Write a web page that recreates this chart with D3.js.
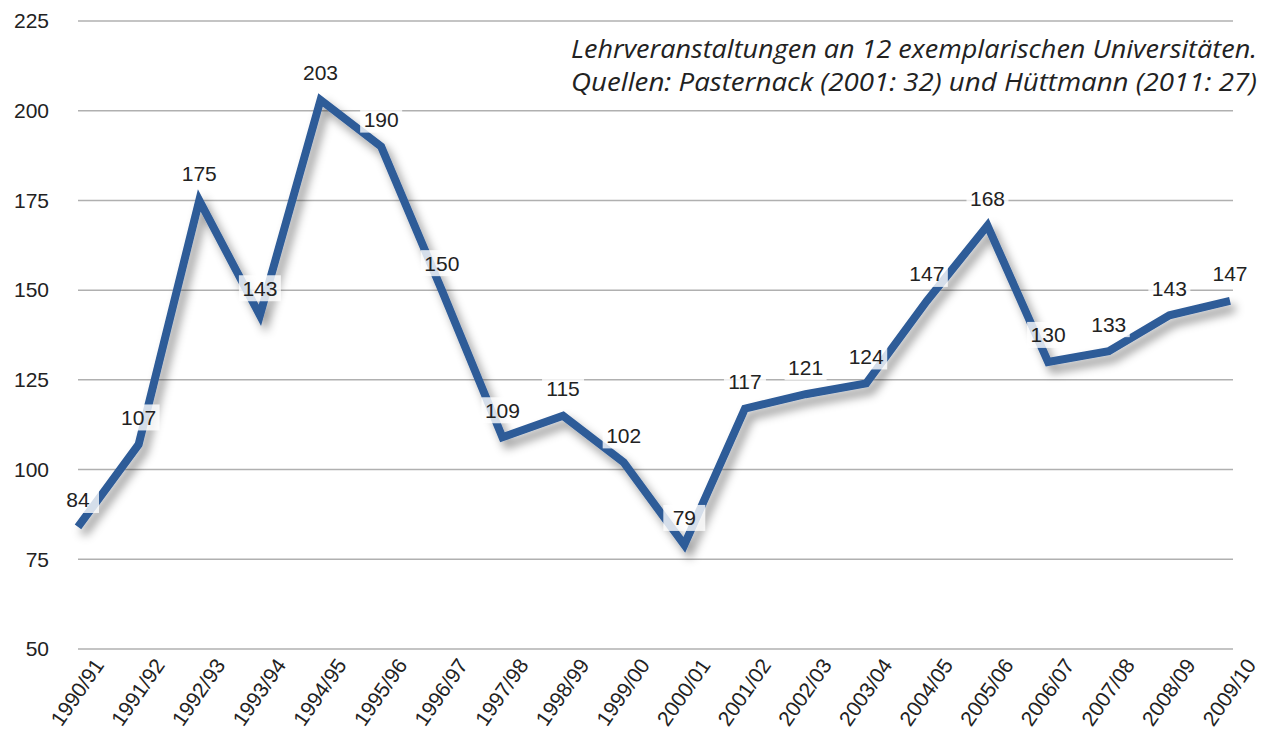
<!DOCTYPE html>
<html>
<head>
<meta charset="utf-8">
<script src="https://cdn.jsdelivr.net/npm/d3@7"></script>
<style>
  html, body { margin: 0; padding: 0; background: #fff; }
  #chart { width: 1266px; height: 738px; }
  text { font-family: "Liberation Sans", Arial, sans-serif; fill: #222; }
</style>
</head>
<body>
<div id="chart"></div>
<script>
// Lehrveranstaltungen per semester year, single line with value labels.
var years = ['1990/91', '1991/92', '1992/93', '1993/94', '1994/95', '1995/96',
    '1996/97', '1997/98', '1998/99', '1999/00', '2000/01', '2001/02', '2002/03',
    '2003/04', '2004/05', '2005/06', '2006/07', '2007/08', '2008/09', '2009/10'];
var counts = [84, 107, 175, 143, 203, 190, 150, 109, 115, 102, 79, 117, 121,
    124, 147, 168, 130, 133, 143, 147];
var yTicks = [50, 75, 100, 125, 150, 175, 200, 225];
var noteLines = ['Lehrveranstaltungen an 12 exemplarischen Universitäten.',
    'Quellen: Pasternack (2001: 32) und Hüttmann (2011: 27)'];

(function () {
    var W = 1266, H = 738;
    var svg = d3.select('#chart').append('svg')
        .attr('width', W).attr('height', H);

    var x = d3.scalePoint().domain(years).range([78, 1230]);
    var y = d3.scaleLinear().domain([50, 225]).range([649, 21]);

    // soft drop shadow under the line
    var f = svg.append('defs').append('filter').attr('id', 'shadow')
        .attr('x', '-10%').attr('y', '-10%').attr('width', '120%').attr('height', '130%');
    f.append('feDropShadow')
        .attr('dx', 5).attr('dy', 7).attr('stdDeviation', 5)
        .attr('flood-color', '#000').attr('flood-opacity', 0.4);

    // grid
    svg.append('g').selectAll('line').data(yTicks).enter().append('line')
        .attr('x1', 78).attr('x2', 1233)
        .attr('y1', function (d) { return y(d); })
        .attr('y2', function (d) { return y(d); })
        .attr('stroke', '#b0b0b0').attr('stroke-width', 1.5);

    // y labels
    svg.append('g').selectAll('text').data(yTicks).enter().append('text')
        .attr('x', 49).attr('y', function (d) { return y(d); })
        .attr('dy', '0.35em').attr('text-anchor', 'end')
        .style('font-size', '21px')
        .text(function (d) { return d; });

    // x labels, rotated
    svg.append('g').selectAll('text').data(years).enter().append('text')
        .attr('text-anchor', 'end')
        .attr('transform', function (d) {
            return 'translate(' + (x(d) + 21) + ',661) rotate(-55)';
        })
        .attr('dy', '0.35em')
        .style('font-size', '21px')
        .text(function (d) { return d; });

    var line = d3.line()
        .x(function (d, i) { return x(years[i]); })
        .y(function (d) { return y(d); });
    svg.append('path').datum(counts)
        .attr('d', line)
        .attr('fill', 'none')
        .attr('stroke', '#2e5b98')
        .attr('stroke-width', 8)
        .attr('stroke-linejoin', 'miter')
        .attr('filter', 'url(#shadow)');

    // value labels with light boxes
    var lab = svg.append('g').selectAll('g').data(counts).enter().append('g')
        .attr('transform', function (d, i) {
            return 'translate(' + x(years[i]) + ',' + (y(d) - 27) + ')';
        });
    lab.append('rect')
        .attr('x', -21).attr('y', -13).attr('width', 42).attr('height', 26)
        .attr('fill', '#fff').attr('fill-opacity', 0.8);
    lab.append('text')
        .attr('text-anchor', 'middle').attr('dy', '0.35em')
        .style('font-size', '21px')
        .text(function (d) { return d; });

    // source note
    svg.append('g').selectAll('text').data(noteLines).enter().append('text')
        .attr('x', 1257).attr('y', function (d, i) { return 58 + i * 33; })
        .attr('text-anchor', 'end')
        .attr('textLength', 686).attr('lengthAdjust', 'spacingAndGlyphs')
        .style('font-family', '"Open Sans", "Noto Sans", sans-serif')
        .style('font-style', 'italic')
        .style('font-size', '25px')
        .text(function (d) { return d; });
})();
</script>
</body>
</html>
